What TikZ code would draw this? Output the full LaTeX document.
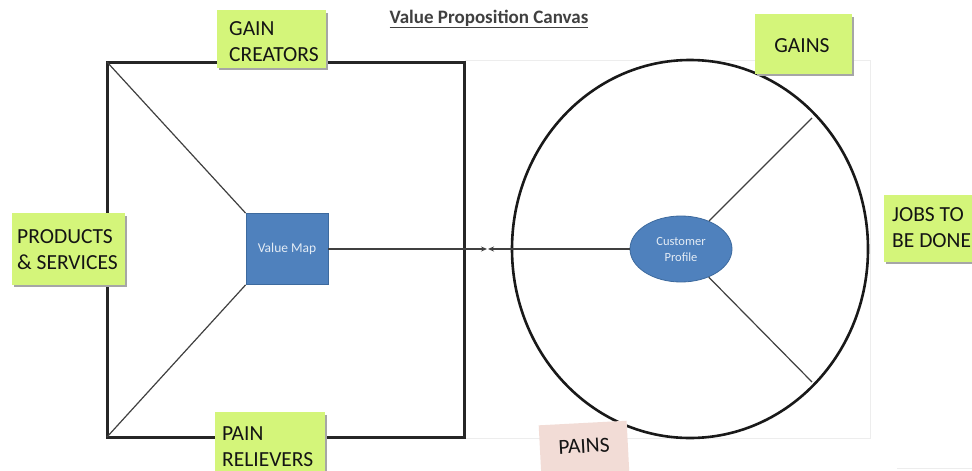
\documentclass[tikz,border=0pt]{standalone}
\usepackage{fontspec}
\setmainfont{Carlito}
\usetikzlibrary{arrows.meta,shapes.geometric}
\definecolor{notegreen}{HTML}{D4F57A}
\definecolor{notepink}{HTML}{F2DCD6}
\definecolor{boxblue}{HTML}{4F81BD}
\definecolor{boxedge}{HTML}{3D6A9E}
\definecolor{ink}{HTML}{141414}
\definecolor{linegrey}{HTML}{404040}
\tikzset{
  note/.style={fill=notegreen, draw=none, inner sep=0pt, font=\fontsize{21.5}{26}\selectfont, text=ink},
  noteshadow/.style={fill=black!35, draw=none},
  spoke/.style={draw=linegrey, line width=1.2pt},
  frame/.style={draw=black!85, line width=3pt},
  bluebox/.style={fill=boxblue, draw=boxedge, line width=0.8pt, text=white!85!boxblue},
  link/.style={draw=linegrey, line width=1.2pt, -{Stealth[length=6pt,width=5pt]}}
}
\begin{document}
\begin{tikzpicture}[x=1pt,y=-1pt]
\useasboundingbox (0,0) rectangle (972,471);
\fill[white] (0,0) rectangle (972,471);

% faint backdrop behind the customer side
\draw[black!7, line width=0.8pt] (465,60) rectangle (870,438);
\draw[black!7, line width=0.8pt] (897,468) -- (972,468);

% title
\node[font=\fontsize{19}{22}\selectfont\bfseries, text=linegrey] (title) at (489,19) {\underline{Value Proposition Canvas}};

% value map square
\draw[frame] (107,62) rectangle (464,437);
\coordinate (tl) at (107,62);
\coordinate (bl) at (107,437);
\node[bluebox, minimum width=82pt, minimum height=71pt, inner sep=0pt, font=\fontsize{13.5}{16}\selectfont] (vm) at (287,249) {Value Map};
\draw[spoke] (tl) -- (vm.north west);
\draw[spoke] (bl) -- (vm.south west);

% customer profile circle
\draw[draw=black!90, line width=2.6pt] (690,249) ellipse [x radius=178, y radius=189];
\coordinate (g1) at (812,118);
\coordinate (g2) at (812,382);
\node[bluebox, ellipse, minimum width=102pt, minimum height=66pt, inner sep=0pt, align=center, font=\fontsize{12.5}{16}\selectfont] (cp) at (681,249) {Customer\\Profile};
\draw[spoke] (cp) -- (g1);
\draw[spoke] (cp) -- (g2);

% fit arrows
\coordinate (m1) at (487,249);
\coordinate (m2) at (488,249);
\draw[link] (vm.east) -- (m1);
\draw[link] (cp.west) -- (m2);

% sticky notes
\fill[noteshadow] (218.5,12.5) rectangle (327.5,70);
\node[note, minimum width=109pt, minimum height=58pt, anchor=north west] (gc) at (217,10) {};
\node[note, fill=none, align=left, anchor=west] (gct) at (229,42) {GAIN\\CREATORS};

\fill[noteshadow] (13.5,215.5) rectangle (126.5,287);
\node[note, minimum width=113pt, minimum height=72pt, anchor=north west] (ps) at (12,213) {};
\node[note, fill=none, align=left, anchor=west] (pst) at (17,250) {PRODUCTS\\\& SERVICES};

\fill[noteshadow] (216.5,414.5) rectangle (326.5,478);
\node[note, minimum width=110pt, minimum height=63pt, anchor=north west] (pr) at (215,412) {};
\node[note, fill=none, align=left, anchor=west] (prt) at (222,447) {PAIN\\RELIEVERS};

\fill[noteshadow] (756.5,16.5) rectangle (853.5,76);
\node[note, minimum width=97pt, minimum height=60pt, anchor=north west] (ga) at (755,14) {};
\node[note, fill=none] (gat) at (802,46) {GAINS};

\fill[noteshadow] (885.5,197.5) rectangle (980,264);
\node[note, minimum width=96pt, minimum height=67pt, anchor=north west] (jb) at (884,195) {};
\node[note, fill=none, align=left, anchor=west] (jbt) at (892,228) {JOBS TO\\BE DONE};

\node[note, fill=notepink, minimum width=88pt, minimum height=52pt, rotate=3] (pa) at (584,449) {};
\node[note, fill=none, rotate=3] (pat) at (584,446) {PAINS};
\end{tikzpicture}
\end{document}
